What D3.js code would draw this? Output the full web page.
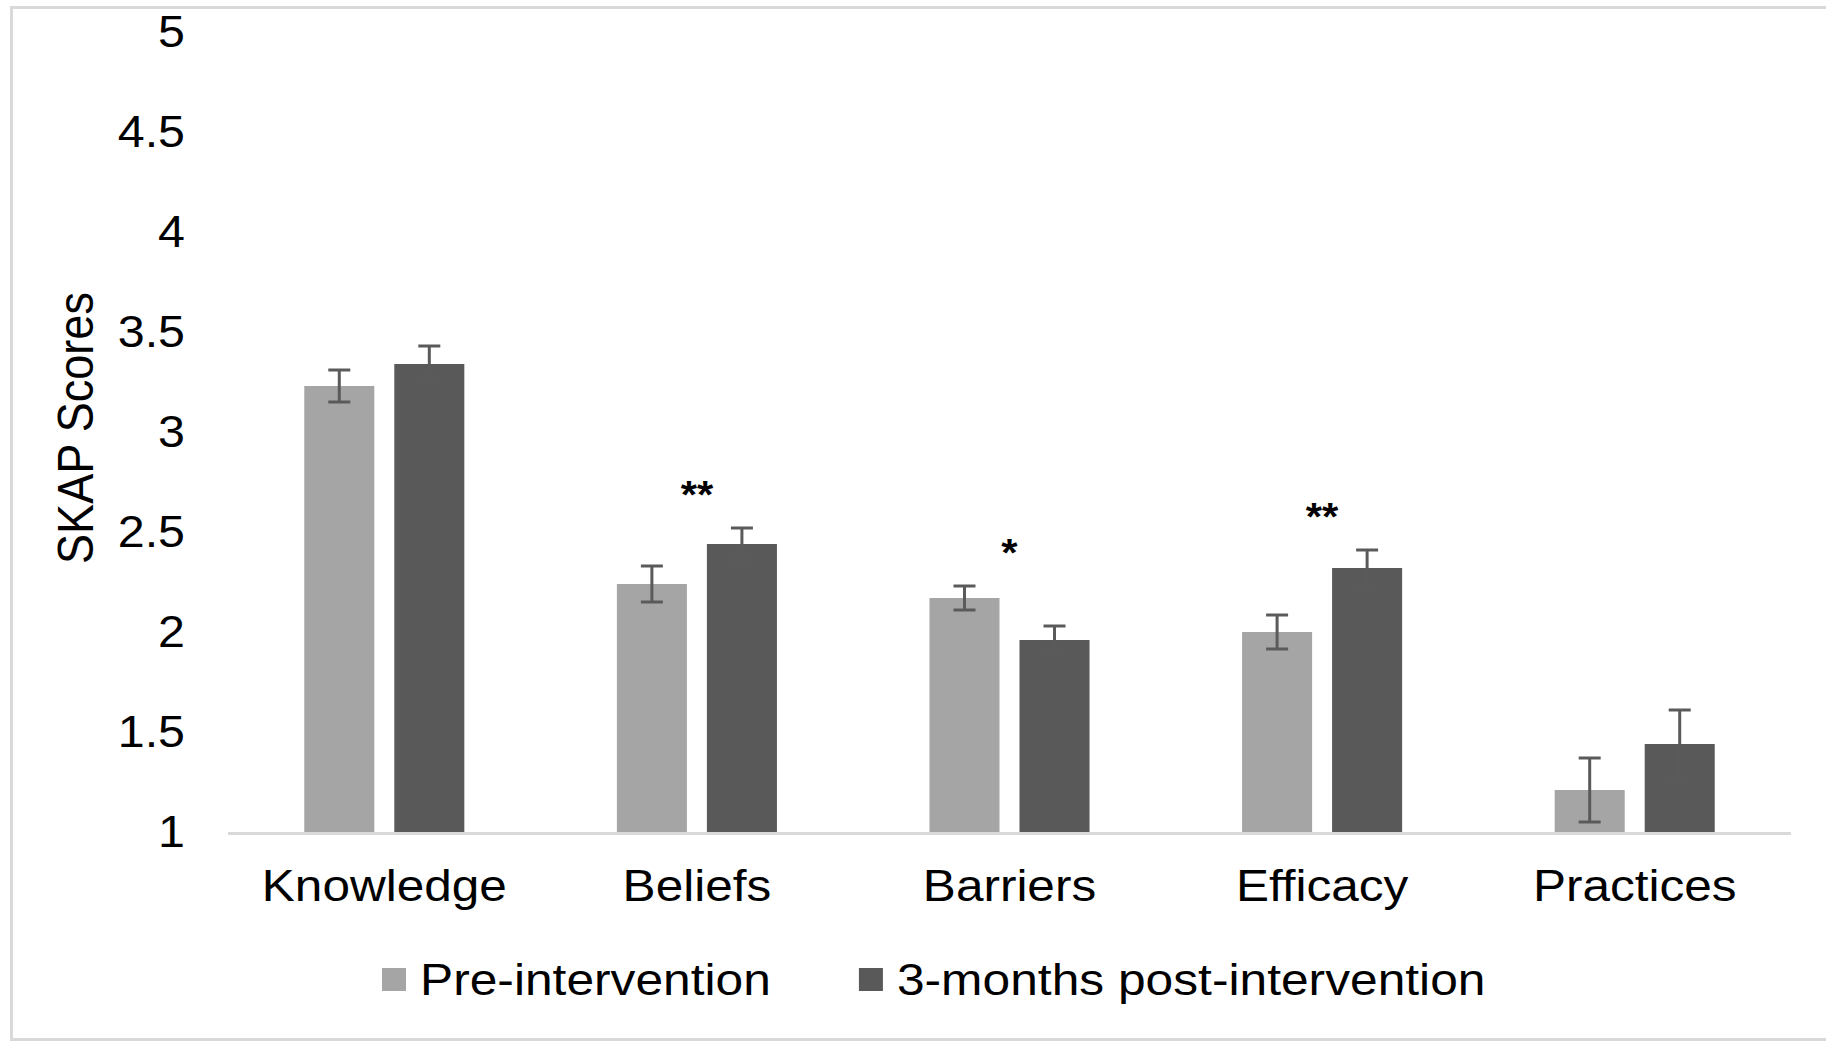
<!DOCTYPE html>
<html>
<head>
<meta charset="utf-8">
<script src="https://cdn.jsdelivr.net/npm/d3@7"></script>
<style>
  html, body { margin: 0; padding: 0; background: #fff; }
  svg { display: block; }
  text { font-family: "Liberation Sans", Arial, sans-serif; fill: #000; }
</style>
</head>
<body>
<svg id="chart" width="1826" height="1041"></svg>
<script>
// SKAP scores before and 3 months after the intervention (mean ± SE)
const categories = ["Knowledge", "Beliefs", "Barriers", "Efficacy", "Practices"];
const seriesNames = ["Pre-intervention", "3-months post-intervention"];
const preMeans  = [3.23, 2.24, 2.17, 2.00, 1.21];
const postMeans = [3.34, 2.44, 1.96, 2.32, 1.44];
const preErr    = [0.08, 0.09, 0.06, 0.085, 0.16];
const postErr   = [0.09, 0.08, 0.07, 0.09, 0.17];
const significance = ["", "**", "*", "**", ""];
const yTicks = [1, 1.5, 2, 2.5, 3, 3.5, 4, 4.5, 5];
const yTitle = "SKAP Scores";

const colors = { "Pre-intervention": "#a5a5a5", "3-months post-intervention": "#595959" };
const errColor = "#5a5a5a";
const gridGray = "#d9d9d9";
const stretch = 1.1;        // text is drawn slightly wide
const legendStretch = 1.13;

const svg = d3.select("#chart");

// outer frame
svg.append("rect")
  .attr("x", 11.5).attr("y", 7.5)
  .attr("width", 1830).attr("height", 1032)
  .attr("fill", "#fff")
  .attr("stroke", gridGray).attr("stroke-width", 3);

const plot = { left: 228, right: 1791, top: 32, bottom: 832 };

const y = d3.scaleLinear().domain([1, 5]).range([plot.bottom, plot.top]);
const x0 = d3.scaleBand().domain(categories)
  .range([plot.left, plot.right])
  .paddingInner(0.488).paddingOuter(0.244);
const x1 = d3.scaleBand().domain(seriesNames)
  .range([0, x0.bandwidth()])
  .paddingInner(0.222);

const rows = categories.map((c, i) => ({
  category: c,
  sig: significance[i],
  values: [
    { series: seriesNames[0], mean: preMeans[i], err: preErr[i] },
    { series: seriesNames[1], mean: postMeans[i], err: postErr[i] }
  ]
}));

// y axis (labels only)
const yAxis = svg.append("g")
  .attr("transform", `translate(${plot.left},0)`)
  .call(d3.axisLeft(y).tickValues(yTicks).tickSize(0).tickPadding(0).tickFormat(d => String(d)));
yAxis.select(".domain").remove();
yAxis.selectAll("text")
  .attr("x", 0)
  .attr("transform", `translate(-43,0) scale(${stretch},1)`)
  .style("font-size", "44px")
  .style("font-family", "'Liberation Sans', Arial, sans-serif")
  .attr("fill", "#000");

// y axis title
svg.append("text")
  .attr("transform", `translate(93,428) scale(${stretch},1) rotate(-90)`)
  .attr("text-anchor", "middle")
  .style("font-size", "45px")
  .text(yTitle);

// bars
const groups = svg.append("g").selectAll("g")
  .data(rows).join("g")
  .attr("transform", d => `translate(${x0(d.category)},0)`);

groups.selectAll("rect")
  .data(d => d.values).join("rect")
  .attr("x", d => x1(d.series))
  .attr("y", d => y(d.mean))
  .attr("width", x1.bandwidth())
  .attr("height", d => y(1) - y(d.mean))
  .attr("fill", d => colors[d.series]);

// error bars
const capHalf = 11;
const eb = groups.selectAll("g.err")
  .data(d => d.values).join("g").attr("class", "err")
  .attr("stroke", errColor).attr("stroke-width", 3).attr("fill", "none");
eb.append("line")
  .attr("x1", d => x1(d.series) + x1.bandwidth() / 2)
  .attr("x2", d => x1(d.series) + x1.bandwidth() / 2)
  .attr("y1", d => y(d.mean - d.err))
  .attr("y2", d => y(d.mean + d.err));
eb.append("line")
  .attr("x1", d => x1(d.series) + x1.bandwidth() / 2 - capHalf)
  .attr("x2", d => x1(d.series) + x1.bandwidth() / 2 + capHalf)
  .attr("y1", d => y(d.mean + d.err))
  .attr("y2", d => y(d.mean + d.err));
eb.append("line")
  .attr("x1", d => x1(d.series) + x1.bandwidth() / 2 - capHalf)
  .attr("x2", d => x1(d.series) + x1.bandwidth() / 2 + capHalf)
  .attr("y1", d => y(d.mean - d.err))
  .attr("y2", d => y(d.mean - d.err));

// significance markers above each pair
groups.filter(d => d.sig).append("text")
  .attr("transform", d => {
    const top = d3.max(d.values, v => v.mean + v.err);
    return `translate(${x0.bandwidth() / 2},${y(top) - 20}) scale(${stretch},1)`;
  })
  .attr("text-anchor", "middle")
  .style("font-size", "38px")
  .style("font-weight", "bold")
  .text(d => d.sig);

// x axis
svg.append("line")
  .attr("x1", plot.left).attr("x2", plot.right)
  .attr("y1", plot.bottom + 1.5).attr("y2", plot.bottom + 1.5)
  .attr("stroke", gridGray).attr("stroke-width", 3);

const xAxis = svg.append("g")
  .attr("transform", `translate(0,${plot.bottom})`)
  .call(d3.axisBottom(x0).tickSize(0).tickPadding(0));
xAxis.select(".domain").remove();
xAxis.selectAll("text")
  .attr("y", 0).attr("dy", null)
  .attr("transform", `translate(0,69) scale(${stretch},1)`)
  .style("font-size", "45px")
  .style("font-family", "'Liberation Sans', Arial, sans-serif")
  .attr("fill", "#000");

// legend
const legend = svg.append("g").attr("transform", "translate(382,995)");
let lx = 0;
seriesNames.forEach(name => {
  const item = legend.append("g").attr("transform", `translate(${lx},0)`);
  item.append("rect")
    .attr("x", 0).attr("y", -27)
    .attr("width", 24).attr("height", 23)
    .attr("fill", colors[name]);
  const t = item.append("text")
    .attr("transform", `translate(38,0) scale(${legendStretch},1)`)
    .style("font-size", "44px")
    .text(name);
  const w = t.node().getComputedTextLength() * legendStretch;
  lx += 38 + w + 88;
});
</script>
</body>
</html>
